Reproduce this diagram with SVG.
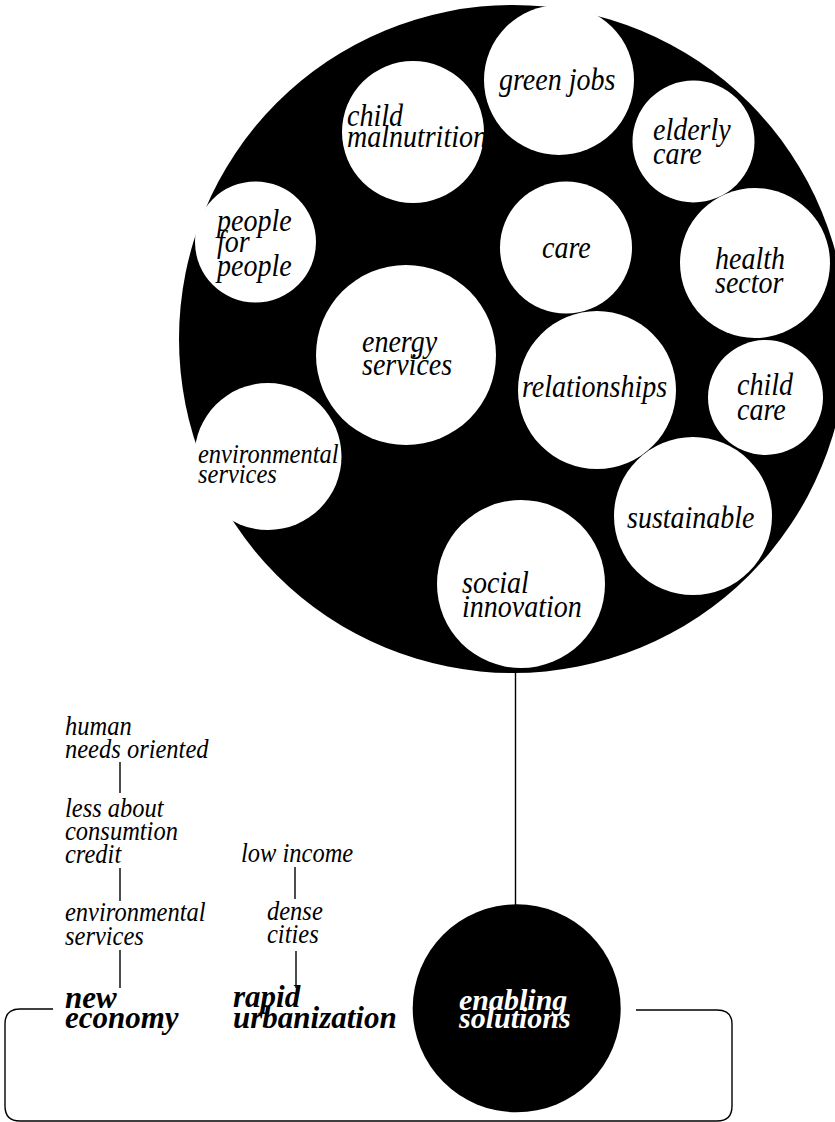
<svg xmlns="http://www.w3.org/2000/svg" width="835" height="1122" viewBox="0 0 835 1122">
  <style>
    .bg { fill: #ffffff; }
    .hub { fill: #000000; }
    .bubble { fill: #ffffff; }
    .lbl { font-family: 'Liberation Serif', 'DejaVu Serif', serif; font-style: italic; font-size: 32px; fill: #000000; }
    .sm { font-size: 28px; }
    .bold { font-weight: bold; font-size: 31px; }
    .inv { fill: #ffffff; font-weight: bold; font-size: 30px; }
    .link { stroke: #000000; stroke-width: 1.4; fill: none; }
  </style>

  <rect class="bg" x="0" y="0" width="835" height="1122"/>

  <!-- large black cluster holding the topic bubbles -->
  <g id="cluster">
    <circle class="hub" cx="513" cy="339" r="334"/>
  </g>

  <!-- italic labels are drawn narrow: translate to baseline, squeeze x by 0.875 -->
  <g id="green-jobs">
    <circle class="bubble" cx="559" cy="80" r="75"/>
    <text class="lbl" transform="translate(499 90) scale(0.875 1)">green jobs</text>
  </g>
  <g id="child-malnutrition">
    <circle class="bubble" cx="413" cy="132" r="71"/>
    <text class="lbl" transform="translate(347 126) scale(0.875 1)">child</text>
    <text class="lbl" transform="translate(347 147) scale(0.875 1)">malnutrition</text>
  </g>
  <g id="elderly-care">
    <circle class="bubble" cx="693.5" cy="141.5" r="61"/>
    <text class="lbl" transform="translate(653 140) scale(0.875 1)">elderly</text>
    <text class="lbl" transform="translate(653 164) scale(0.875 1)">care</text>
  </g>
  <g id="people-for-people">
    <circle class="bubble" cx="255.5" cy="242" r="60.5"/>
    <text class="lbl" transform="translate(217 231) scale(0.875 1)">people</text>
    <text class="lbl" transform="translate(217 252) scale(0.875 1)">for</text>
    <text class="lbl" transform="translate(217 276) scale(0.875 1)">people</text>
  </g>
  <g id="care">
    <circle class="bubble" cx="566" cy="247.5" r="66"/>
    <text class="lbl" transform="translate(542 258) scale(0.875 1)">care</text>
  </g>
  <g id="health-sector">
    <circle class="bubble" cx="755" cy="263" r="75"/>
    <text class="lbl" transform="translate(715 269) scale(0.875 1)">health</text>
    <text class="lbl" transform="translate(715 293) scale(0.875 1)">sector</text>
  </g>
  <g id="energy-services">
    <circle class="bubble" cx="406" cy="355" r="90"/>
    <text class="lbl" transform="translate(362 352) scale(0.875 1)">energy</text>
    <text class="lbl" transform="translate(362 375) scale(0.875 1)">services</text>
  </g>
  <g id="relationships">
    <circle class="bubble" cx="597" cy="390" r="79"/>
    <text class="lbl" transform="translate(522 397) scale(0.875 1)">relationships</text>
  </g>
  <g id="child-care">
    <circle class="bubble" cx="765.5" cy="397.5" r="57.5"/>
    <text class="lbl" transform="translate(737 395) scale(0.875 1)">child</text>
    <text class="lbl" transform="translate(737 420) scale(0.875 1)">care</text>
  </g>
  <g id="environmental-services">
    <circle class="bubble" cx="268" cy="456.5" r="73.5"/>
    <text class="lbl sm" transform="translate(198 463) scale(0.875 1)">environmental</text>
    <text class="lbl sm" transform="translate(198 483) scale(0.875 1)">services</text>
  </g>
  <g id="sustainable">
    <circle class="bubble" cx="693" cy="516" r="79"/>
    <text class="lbl" transform="translate(627 528) scale(0.875 1)">sustainable</text>
  </g>
  <g id="social-innovation">
    <circle class="bubble" cx="521" cy="584" r="84"/>
    <text class="lbl" transform="translate(462 593) scale(0.875 1)">social</text>
    <text class="lbl" transform="translate(462 617) scale(0.875 1)">innovation</text>
  </g>

  <!-- connectors -->
  <g id="connectors">
    <line class="link" x1="515.5" y1="672" x2="515.5" y2="905"/>
    <line class="link" x1="120" y1="762" x2="120" y2="793"/>
    <line class="link" x1="120" y1="868" x2="120" y2="901"/>
    <line class="link" x1="120" y1="950" x2="120" y2="988"/>
    <line class="link" x1="295" y1="867" x2="295" y2="899"/>
    <line class="link" x1="296" y1="951" x2="296" y2="988"/>
    <path class="link" d="M 53 1009 H 20 Q 5 1009 5 1024 V 1106 Q 5 1121 20 1121 H 717 Q 732 1121 732 1106 V 1024 Q 732 1010 717 1010 H 636"/>
  </g>

  <!-- new economy column -->
  <g id="human-needs">
    <text class="lbl sm" transform="translate(65 735) scale(0.875 1)">human</text>
    <text class="lbl sm" transform="translate(65 758) scale(0.875 1)">needs oriented</text>
  </g>
  <g id="less-consumption">
    <text class="lbl sm" transform="translate(65 817) scale(0.875 1)">less about</text>
    <text class="lbl sm" transform="translate(65 840) scale(0.875 1)">consumtion</text>
    <text class="lbl sm" transform="translate(65 863) scale(0.875 1)">credit</text>
  </g>
  <g id="env-services-low">
    <text class="lbl sm" transform="translate(65 921) scale(0.875 1)">environmental</text>
    <text class="lbl sm" transform="translate(65 945) scale(0.875 1)">services</text>
  </g>
  <g id="new-economy">
    <text class="lbl bold" x="65" y="1008">new</text>
    <text class="lbl bold" x="65" y="1028">economy</text>
  </g>

  <!-- urbanization column -->
  <g id="low-income">
    <text class="lbl sm" transform="translate(241 862) scale(0.875 1)">low income</text>
  </g>
  <g id="dense-cities">
    <text class="lbl sm" transform="translate(267 920) scale(0.875 1)">dense</text>
    <text class="lbl sm" transform="translate(267 943) scale(0.875 1)">cities</text>
  </g>
  <g id="rapid-urbanization">
    <text class="lbl bold" x="233" y="1007">rapid</text>
    <text class="lbl bold" x="233" y="1028">urbanization</text>
  </g>

  <g id="enabling-solutions">
    <circle class="hub" cx="516.7" cy="1008.3" r="104"/>
    <text class="lbl inv" x="459" y="1010">enabling</text>
    <text class="lbl inv" x="459" y="1028">solutions</text>
  </g>
</svg>
